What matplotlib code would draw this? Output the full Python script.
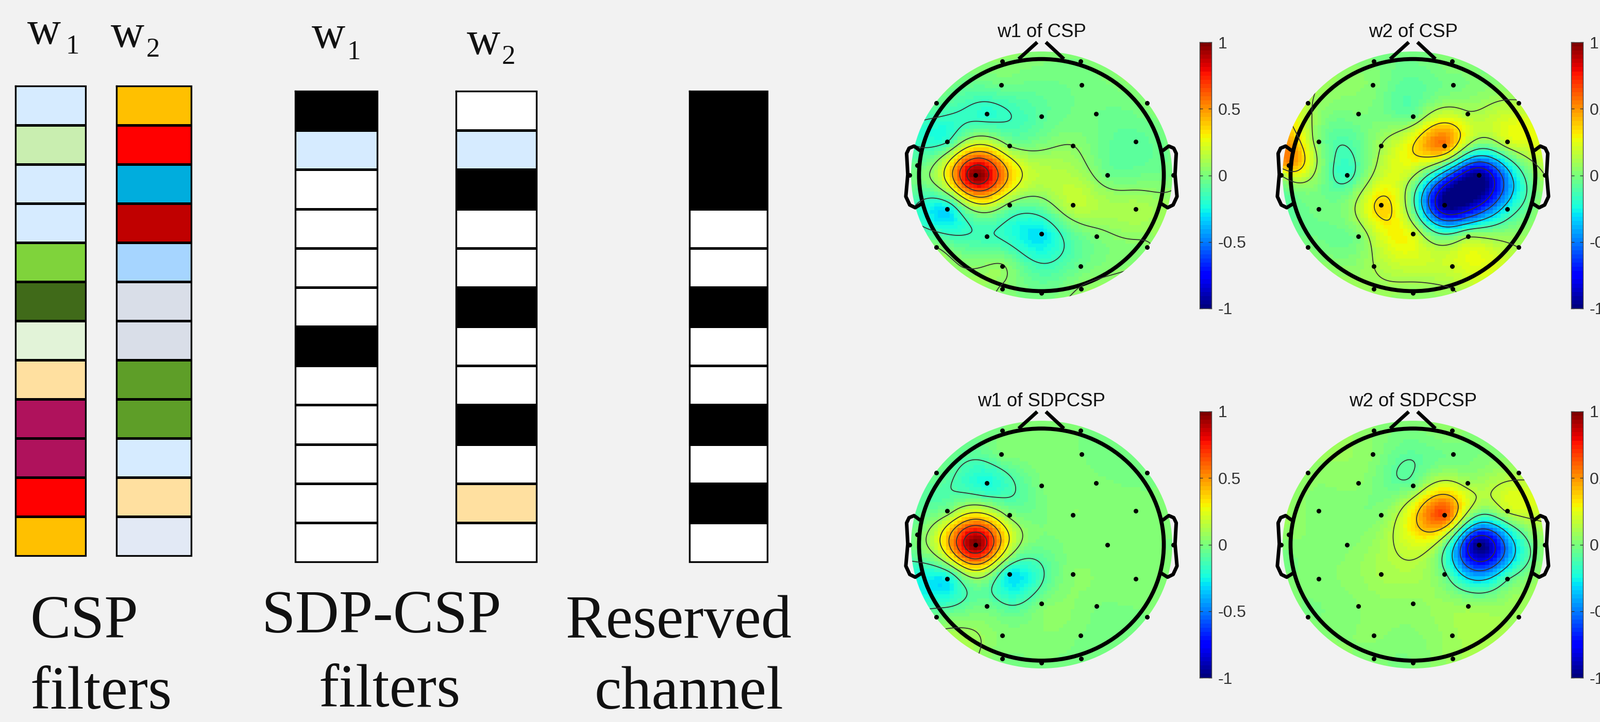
import numpy as np
import matplotlib
matplotlib.use("Agg")
import matplotlib.pyplot as plt
from matplotlib.patches import Ellipse

W, H = 3105, 1402
BG = "#F2F2F2"
SANS = "Liberation Sans"
SERIF = "Liberation Serif"

# ---------- filter columns (top to bottom) ----------
B, Wt, LB, LG, OR = "#000000", "#FFFFFF", "#D6EBFF", "#E2F3D8", "#FFE0A0"
csp_w1 = [LB, "#C9EEB0", LB, LB, "#7FD33B", "#406A19", LG, OR, "#AF125C", "#AF125C", "#FF0000", "#FFC000"]
csp_w2 = ["#FFC000", "#FF0000", "#00ADDD", "#C00000", "#A6D5FF", "#D9DEE8", "#D9DEE8", "#5E9E28", "#5E9E28", LB, OR, "#E2E9F5"]
sdp_w1 = [B, LB, Wt, Wt, Wt, Wt, B, Wt, Wt, Wt, Wt, Wt]
sdp_w2 = [Wt, LB, B, Wt, Wt, B, Wt, Wt, B, Wt, OR, Wt]
reserved = [B, B, B, Wt, Wt, B, Wt, Wt, B, Wt, B, Wt]

# ---------- electrode layout (normalised to the scalp disk) ----------
elec_x = [-0.300, 0.300, -0.306, 0.308, -0.806, -0.417, 0.000, 0.419, 0.808,
          -0.723, -0.243, 0.241, 0.723, -1.008, -0.504, 0.504, 1.010,
          -0.721, -0.243, 0.241, 0.721, -0.419, 0.000, 0.421, -0.806, 0.808,
          -0.300, 0.300, -0.300, 0.000, 0.302, -0.951]
elec_y = [0.920, 0.920, 0.729, 0.729, 0.581, 0.495, 0.475, 0.495, 0.581,
          0.271, 0.239, 0.239, 0.271, 0.000, 0.000, 0.000, 0.000,
          -0.275, -0.241, -0.241, -0.275, -0.495, -0.476, -0.495, -0.583, -0.583,
          -0.734, -0.734, -0.920, -0.953, -0.920, 0.081]

v_w1_csp = [0.03, 0.00, -0.03, -0.02, -0.05, -0.20, -0.08, -0.03, 0.02,
            -0.17, 0.03, 0.04, -0.08, 0.00, 1.00, -0.03, 0.00,
            -0.30, 0.00, 0.17, 0.12, -0.15, -0.30, 0.00, 0.04, 0.03,
            0.05, -0.04, 0.03, -0.03, 0.05, -0.05]
v_w2_csp = [0.00, 0.03, 0.02, -0.02, 0.13, 0.00, -0.03, 0.12, 0.12,
            0.02, 0.10, 0.55, 0.20, 0.12, -0.17, -1.00, 0.10,
            -0.02, 0.38, -1.00, -0.25, 0.00, 0.22, 0.08, 0.00, 0.10,
            0.10, 0.20, 0.08, 0.05, 0.10, 0.50]
v_w1_sdp = [0.00, 0.00, 0.00, 0.00, -0.03, -0.24, 0.00, 0.01, -0.02,
            0.00, 0.03, 0.03, 0.03, -0.02, 1.00, 0.00, 0.00,
            -0.27, -0.28, 0.03, 0.03, -0.03, 0.00, 0.00, -0.02, 0.00,
            0.02, 0.00, 0.00, 0.00, -0.02, 0.00]
v_w2_sdp = [0.03, 0.05, 0.03, -0.03, 0.05, 0.04, -0.02, 0.10, 0.10,
            0.01, 0.03, 0.65, 0.17, 0.01, 0.02, -1.00, 0.05,
            0.02, 0.10, -0.05, -0.10, 0.03, 0.05, 0.07, 0.00, 0.08,
            0.04, 0.08, 0.01, 0.00, 0.08, 0.05]

# values at nodes without a drawn dot: head centre, lower-left scalp
hidden_x = [0.0, -0.62]
hidden_y = [0.0, -0.76]
hidden_values = [[0.15, 0.05], [0.12, 0.05], [-0.02, 0.11], [0.22, 0.03]]

contour_levels = [
    [-0.16, 0.04, 0.24, 0.44, 0.64, 0.84],
    [-0.78, -0.56, -0.34, -0.12, 0.10, 0.33],
    [-0.114, 0.07, 0.257, 0.443, 0.629, 0.814],
    [-0.77, -0.54, -0.31, -0.08, 0.15, 0.39],
]
panel_titles = ["w1 of CSP", "w2 of CSP", "w1 of SDPCSP", "w2 of SDPCSP"]
panel_values = [v_w1_csp, v_w2_csp, v_w1_sdp, v_w2_sdp]
cbar_ticks = [-1, -0.5, 0, 0.5, 1]
cbar_labels = ["-1", "-0.5", "0", "0.5", "1"]

# head outline
ear_x = [-0.932, -0.975, -1.013, -1.032, -1.023, -1.038, -1.008, -0.966, -0.919]
ear_y = [0.200, 0.234, 0.217, 0.175, 0.005, -0.173, -0.241, -0.263, -0.232]
nose_l_x, nose_l_y = [-0.174, -0.032], [0.937, 1.073]
nose_r_x, nose_r_y = [0.172, 0.034], [0.937, 1.073]

fig = plt.figure(figsize=(W / 100, H / 100), dpi=100, facecolor=BG)


def px_axes(x0, y0, x1, y1, **kw):
    return fig.add_axes([x0 / W, 1 - y1 / H, (x1 - x0) / W, (y1 - y0) / H], **kw)


# ---------- left part in pixel coordinates ----------
bg = px_axes(0, 0, W, H)
bg.set_xlim(0, W)
bg.set_ylim(H, 0)
bg.axis("off")


def column(colors, x0, x1, y0, y1):
    n = len(colors)
    edges = np.linspace(y0, y1, n + 1)
    for c, top, bot in zip(colors, edges[:-1], edges[1:]):
        bg.fill_between([x0, x1], top, bot, color=c, lw=0)
    bg.hlines(edges[1:-1], x0, x1, color="black", lw=3.6)
    bg.plot([x0, x1, x1, x0, x0], [y0, y0, y1, y1, y0], color="black", lw=2.4,
            solid_joinstyle="miter")


column(csp_w1, 30, 166, 167, 1079)
column(csp_w2, 226, 371, 167, 1079)
column(sdp_w1, 573, 732, 177, 1091)
column(sdp_w2, 885, 1041, 177, 1091)
column(reserved, 1338, 1489, 177, 1091)


def wlabel(x, base, sub, subx, subbase):
    bg.text(x, base, "w", family=SERIF, fontsize=65, ha="left", va="baseline", color="#111111")
    bg.text(subx, subbase, sub, family=SERIF, fontsize=38, ha="left", va="baseline", color="#111111")


wlabel(53, 85, "1", 127, 104)
wlabel(215, 91, "2", 284, 110)
wlabel(605, 93, "1", 673, 115)
wlabel(906, 105, "2", 974, 124)

big = [("CSP", 58, 1238), ("filters", 58, 1376), ("SDP-CSP", 507, 1228), ("filters", 618, 1372),
       ("Reserved", 1098, 1238), ("channel", 1153, 1376)]
for s, x, y in big:
    bg.text(x, y, s, family=SERIF, fontsize=85, ha="left", va="baseline", color="#111111")

# ---------- scalp maps ----------
nx = np.array(elec_x + hidden_x)
ny = np.array(elec_y + hidden_y)


def biharmonic(vals, gx, gy):
    d = np.hypot(nx[:, None] - nx[None, :], ny[:, None] - ny[None, :])
    with np.errstate(divide="ignore", invalid="ignore"):
        G = np.where(d > 0, d ** 2 * (np.log(d) - 1), 0.0)
    w = np.linalg.solve(G, np.asarray(vals))
    r = np.hypot(gx[..., None] - nx, gy[..., None] - ny)
    with np.errstate(divide="ignore", invalid="ignore"):
        K = np.where(r > 0, r ** 2 * (np.log(r) - 1), 0.0)
    return K @ w


centers = [(2021, 340), (2742, 340), (2021, 1057.5), (2742, 1057.5)]
cbar_left = [2328, 3049, 2328, 3049]
cbar_top = [82, 82, 799, 799]
RX, RY = 253.5, 240.5
LIM = 1.25
edges = np.linspace(-1, 1, 68)
mid = 0.5 * (edges[:-1] + edges[1:])
gx, gy = np.meshgrid(mid, mid)
fine = np.linspace(-1, 1, 241)
fx, fy = np.meshgrid(fine, fine)

for i, ((cx, cy), vals) in enumerate(zip(centers, panel_values)):
    ax = px_axes(cx - RX * LIM, cy - RY * LIM, cx + RX * LIM, cy + RY * LIM)
    ax.patch.set_alpha(0)
    ax.set_xlim(-LIM, LIM)
    ax.set_ylim(-LIM, LIM)
    ax.axis("off")
    all_vals = list(vals) + hidden_values[i]
    Z = biharmonic(all_vals, gx, gy)
    Zf = biharmonic(all_vals, fx, fy)
    mesh = ax.pcolormesh(edges, edges, Z, cmap=plt.get_cmap("jet", 64), vmin=-1, vmax=1,
                         shading="flat", rasterized=True)
    disk = Ellipse((0, 0), 2, 2, transform=ax.transData)
    mesh.set_clip_path(disk)
    cs = ax.contour(fx, fy, Zf, levels=contour_levels[i], colors="#333333", linewidths=1.3,
                    linestyles="solid")
    cs.set_clip_path(disk)
    ring = Ellipse((0, 0), 2 * 0.937, 2 * 0.937, fill=False, ec="black", lw=5.6)
    ax.add_patch(ring)
    for sgn in (1, -1):
        ax.plot(sgn * np.array(ear_x), ear_y, color="black", lw=5, solid_joinstyle="round",
                solid_capstyle="round", clip_on=False)
    ax.plot(nose_l_x, nose_l_y, color="black", lw=5, solid_capstyle="butt", clip_on=False)
    ax.plot(nose_r_x, nose_r_y, color="black", lw=5, solid_capstyle="butt", clip_on=False)
    ax.plot(elec_x, elec_y, "o", color="black", ms=6.5, mew=0, clip_on=False, zorder=5)
    ax.text(0, 1.116, panel_titles[i], family=SANS, fontsize=26.4, ha="center", va="baseline",
            color="#111111")

    # colour bar
    bx0, by0 = cbar_left[i], cbar_top[i]
    cax = px_axes(bx0, by0, bx0 + 23, by0 + 517)
    cax.imshow(np.linspace(1, -1, 64)[:, None], cmap=plt.get_cmap("jet", 64), vmin=-1, vmax=1,
               aspect="auto", extent=[0, 1, -1, 1])
    cax.set_xticks([])
    cax.set_yticks(cbar_ticks, cbar_labels, family=SANS, fontsize=23, color="#333333")
    cax.yaxis.set_ticks_position("both")
    cax.tick_params(axis="y", direction="in", length=4, width=1, color="#333333",
                    left=True, right=True, labelleft=False, labelright=True, pad=9)
    for sp in cax.spines.values():
        sp.set_color("#444444")
        sp.set_linewidth(1)

fig.savefig("out.png", dpi=100, facecolor=BG)
